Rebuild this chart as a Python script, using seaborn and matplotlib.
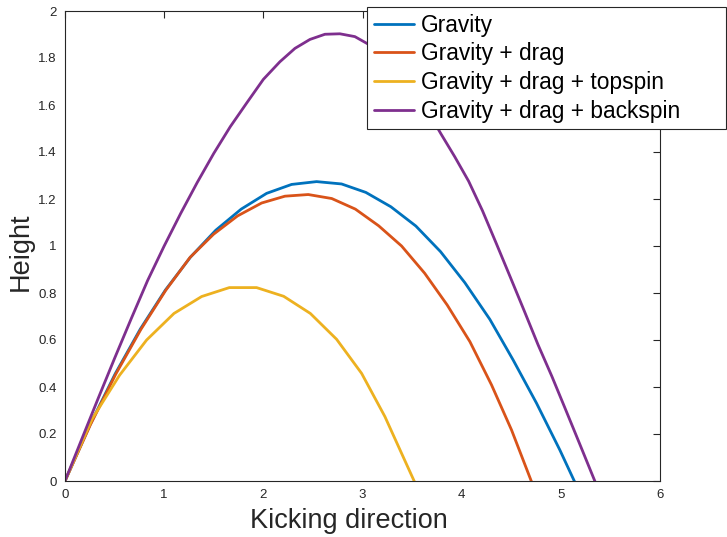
import matplotlib
matplotlib.use("Agg")
import matplotlib.pyplot as plt
import seaborn as sns
import pandas as pd

# ---- data ----
labels = ["Gravity", "Gravity + drag", "Gravity + drag + topspin", "Gravity + drag + backspin"]
colors = ["#0072BD", "#D95319", "#EDB120", "#7E2F8E"]

grav_x = [0, 0.253, 0.506, 0.76, 1.013, 1.266, 1.52, 1.777, 2.033, 2.285, 2.537,
          2.789, 3.034, 3.286, 3.538, 3.787, 4.032, 4.284, 4.519, 4.755, 4.990, 5.235]
grav_y = [0, 0.240, 0.456, 0.647, 0.813, 0.953, 1.067, 1.157, 1.224, 1.262, 1.274,
          1.264, 1.228, 1.167, 1.085, 0.976, 0.844, 0.688, 0.515, 0.331, 0.132, -0.09]

drag_x = [0, 0.257, 0.512, 0.765, 1.015, 1.26, 1.498, 1.74, 1.983, 2.218, 2.453,
          2.69, 2.928, 3.163, 3.394, 3.627, 3.854, 4.083, 4.301, 4.503, 4.72]
drag_y = [0, 0.240, 0.455, 0.645, 0.811, 0.951, 1.050, 1.128, 1.183, 1.212, 1.219,
          1.202, 1.157, 1.086, 1.000, 0.884, 0.749, 0.593, 0.409, 0.217, -0.02]

top_x = [0, 0.275, 0.55, 0.823, 1.099, 1.378, 1.657, 1.932, 2.205, 2.474, 2.739,
         2.991, 3.226, 3.44, 3.65]
top_y = [0, 0.265, 0.45, 0.600, 0.713, 0.785, 0.823, 0.823, 0.786, 0.713, 0.603,
         0.458, 0.274, 0.075, -0.12]

back_x = [0, 0.167, 0.334, 0.5, 0.667, 0.833, 1.0, 1.167, 1.333, 1.5, 1.667, 1.833,
          2.0, 2.167, 2.319, 2.47, 2.621, 2.772, 2.923, 3.07, 3.215, 3.36, 3.505,
          3.65, 3.79, 3.93, 4.07, 4.21, 4.35, 4.49, 4.63, 4.77, 4.91, 5.05, 5.19,
          5.33, 5.47]
back_y = [0, 0.176, 0.351, 0.522, 0.69, 0.853, 1.0, 1.139, 1.270, 1.394, 1.508, 1.609,
          1.709, 1.784, 1.841, 1.879, 1.901, 1.903, 1.891, 1.856, 1.81, 1.75, 1.675,
          1.58, 1.478, 1.38, 1.276, 1.15, 1.01, 0.868, 0.725, 0.58, 0.445, 0.302, 0.158,
          0.013, -0.13]

x_ticks = [0, 1, 2, 3, 4, 5, 6]
y_ticks = [0, 0.2, 0.4, 0.6, 0.8, 1, 1.2, 1.4, 1.6, 1.8, 2]
y_tick_labels = ["0", "0.2", "0.4", "0.6", "0.8", "1", "1.2", "1.4", "1.6", "1.8", "2"]

series = [(grav_x, grav_y), (drag_x, drag_y), (top_x, top_y), (back_x, back_y)]
frames = []
for lab, (xs, ys) in zip(labels, series):
    frames.append(pd.DataFrame({"x": xs, "y": ys, "series": lab}))
df = pd.concat(frames, ignore_index=True)

# ---- style ----
sns.set_style("white")
plt.rcParams["font.family"] = ["Liberation Sans", "DejaVu Sans"]
dark = "#262626"

fig = plt.figure(figsize=(7.27, 5.37), dpi=100)
ax = fig.add_axes([65 / 727, 56 / 537, 595 / 727, 470 / 537])

sns.lineplot(data=df, x="x", y="y", hue="series", hue_order=labels,
             palette=dict(zip(labels, colors)), estimator=None, sort=False,
             linewidth=2.0, ax=ax)

ax.set_xlim(0, 6)
ax.set_ylim(0, 2)
ax.set_xticks(x_ticks)
ax.set_xticklabels([str(t) for t in x_ticks])
ax.set_yticks(y_ticks)
ax.set_yticklabels(y_tick_labels)
ax.tick_params(direction="in", length=5, width=0.8, colors=dark, labelsize=9.5,
               top=True, right=True, pad=6)
for s in ax.spines.values():
    s.set_color(dark)
    s.set_linewidth(0.8)
    s.set_visible(True)

ax.set_xlabel("Kicking direction", fontsize=19.5, color=dark)
ax.set_ylabel("Height", fontsize=19.5, color=dark)
ax.xaxis.set_label_coords(0.4765, -0.057)
ax.yaxis.set_label_coords(-0.053, 0.488)

leg = ax.legend(loc="upper left", bbox_to_anchor=(0.5076, 0.0, 0.604, 1.0091),
                mode="expand", borderaxespad=0, fontsize=16.4, frameon=True,
                fancybox=False, framealpha=1, edgecolor=dark, handlelength=1.75,
                handletextpad=0.3, labelspacing=0.25, borderpad=0.3)
leg.get_frame().set_linewidth(0.8)
for t in leg.get_texts():
    t.set_color("black")
for line in leg.get_lines():
    line.set_linewidth(2.0)

fig.savefig("out.png", dpi=100)
